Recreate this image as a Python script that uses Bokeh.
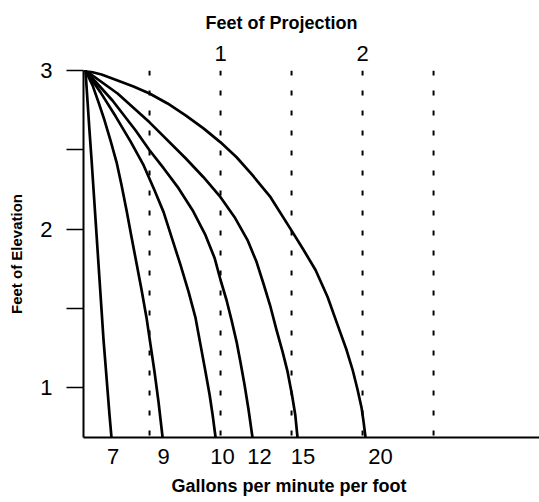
from bokeh.plotting import figure
from bokeh.models import Range1d, LinearAxis, FixedTicker, Title
from bokeh.embed import file_html
from bokeh.resources import INLINE

# ---- data (feet of projection / feet of elevation) ----
flow_labels = ["7", "9", "10", "12", "15", "20"]
label_x = [0.243, 0.599, 1.014, 1.275, 1.581, 2.127]   # positions of the gpm labels

c7_x = [0.049, 0.063, 0.077, 0.092, 0.106, 0.120, 0.134, 0.148, 0.162, 0.176, 0.190, 0.204, 0.218, 0.232]
c7_y = [3.0, 2.811, 2.623, 2.434, 2.245, 2.057, 1.868, 1.679, 1.491, 1.302, 1.145, 0.987, 0.830, 0.686]

c9_x = [0.049, 0.099, 0.141, 0.183, 0.225, 0.268, 0.303, 0.338, 0.373, 0.408, 0.444, 0.479, 0.507, 0.535, 0.563, 0.592]
c9_y = [3.0, 2.906, 2.799, 2.686, 2.560, 2.421, 2.277, 2.119, 1.950, 1.786, 1.616, 1.440, 1.270, 1.101, 0.912, 0.686]

c10_x = [0.049, 0.155, 0.261, 0.366, 0.458, 0.535, 0.599, 0.662, 0.718, 0.775, 0.824, 0.859, 0.894, 0.923, 0.944, 0.965]
c10_y = [3.0, 2.862, 2.711, 2.553, 2.403, 2.245, 2.107, 1.931, 1.774, 1.604, 1.440, 1.270, 1.101, 0.956, 0.830, 0.686]

c12_x = [0.049, 0.239, 0.401, 0.5, 0.599, 0.704, 0.803, 0.894, 0.958, 1.0, 1.042, 1.077, 1.113, 1.141, 1.169, 1.197, 1.225]
c12_y = [3.0, 2.811, 2.623, 2.497, 2.384, 2.258, 2.119, 1.962, 1.818, 1.679, 1.553, 1.428, 1.289, 1.157, 1.019, 0.862, 0.686]

c15_x = [0.049, 0.275, 0.5, 0.754, 0.880, 1.0, 1.099, 1.190, 1.254, 1.303, 1.352, 1.394, 1.437, 1.472, 1.503, 1.526, 1.542]
c15_y = [3.0, 2.855, 2.673, 2.447, 2.327, 2.201, 2.075, 1.931, 1.792, 1.654, 1.509, 1.365, 1.226, 1.101, 0.956, 0.830, 0.686]

c20_x = [0.049, 0.162, 0.275, 0.387, 0.5, 0.627, 0.754, 0.880, 1.0, 1.113, 1.225, 1.352, 1.507, 1.585,
         1.669, 1.754, 1.824, 1.887, 1.930, 1.965, 1.993, 2.007, 2.021]
c20_y = [3.0, 2.975, 2.937, 2.899, 2.855, 2.792, 2.717, 2.635, 2.547, 2.453, 2.340, 2.201, 1.981, 1.868,
         1.742, 1.572, 1.396, 1.239, 1.113, 0.987, 0.874, 0.786, 0.686]

projection_lines = [0.5, 1.0, 1.5, 2.0, 2.5]
projection_ticks = [1, 2]
elevation_ticks = [1, 1.5, 2, 2.5, 3]
elevation_labels = {1: "1", 1.5: "", 2: "2", 2.5: "", 3: "3"}

Y_TOP, Y_BOTTOM = 3.0, 0.686

p = figure(width=539, height=502, output_backend="svg", toolbar_location=None,
           x_range=Range1d(0.035, 3.246), y_range=Range1d(Y_BOTTOM, Y_TOP),
           x_axis_location=None, y_axis_location=None,
           min_border_left=83, min_border_right=0, min_border_top=70, min_border_bottom=64)
p.outline_line_color = None
p.xgrid.visible = False
p.ygrid.visible = False
p.background_fill_color = "white"
p.border_fill_color = "white"

FONT = "Liberation Sans"

# dotted projection lines
p.segment(x0=projection_lines, y0=[Y_TOP] * len(projection_lines),
          x1=projection_lines, y1=[Y_BOTTOM] * len(projection_lines),
          line_color="black", line_width=2, line_dash="5 15")

# flow curves
for xs, ys in [(c7_x, c7_y), (c9_x, c9_y), (c10_x, c10_y),
               (c12_x, c12_y), (c15_x, c15_y), (c20_x, c20_y)]:
    p.line(xs, ys, line_color="black", line_width=2.7, line_join="round", line_cap="round")

# left axis
left = LinearAxis(ticker=FixedTicker(ticks=elevation_ticks),
                  major_label_overrides=elevation_labels,
                  axis_label="Feet of Elevation")
left.axis_line_width = 2
left.axis_line_color = "black"
left.major_tick_out = 17
left.major_tick_in = 0
left.major_tick_line_width = 1.5
left.minor_tick_line_color = None
left.major_label_text_font = FONT
left.major_label_text_font_size = "22px"
left.major_label_text_color = "black"
left.major_label_standoff = 14
left.axis_label_text_font = FONT
left.axis_label_text_font_style = "bold"
left.axis_label_text_font_size = "15px"
left.axis_label_text_color = "black"
left.axis_label_standoff = 12
p.add_layout(left, "left")

# bottom axis
bottom = LinearAxis(ticker=FixedTicker(ticks=label_x),
                    major_label_overrides={x: t for x, t in zip(label_x, flow_labels)})
bottom.axis_line_width = 2
bottom.axis_line_color = "black"
bottom.major_tick_line_color = None
bottom.minor_tick_line_color = None
bottom.major_label_text_font = FONT
bottom.major_label_text_font_size = "22px"
bottom.major_label_text_color = "black"
bottom.major_label_standoff = 5
p.add_layout(bottom, "below")

# top axis
top = LinearAxis(ticker=FixedTicker(ticks=projection_ticks))
top.axis_line_color = None
top.major_tick_line_color = None
top.minor_tick_line_color = None
top.major_label_text_font = FONT
top.major_label_text_font_size = "22px"
top.major_label_text_color = "black"
top.major_label_standoff = 4
p.add_layout(top, "above")

# titles
t_top = Title(text="Feet of Projection", align="left", offset=122, standoff=20,
              text_font=FONT, text_font_style="bold", text_font_size="18px", text_color="black")
p.add_layout(t_top, "above")
t_bot = Title(text="Gallons per minute per foot", align="left", offset=88, standoff=14,
              text_font=FONT, text_font_style="bold", text_font_size="18px", text_color="black")
p.add_layout(t_bot, "below")

open("out.html", "w").write(file_html(p, INLINE))
